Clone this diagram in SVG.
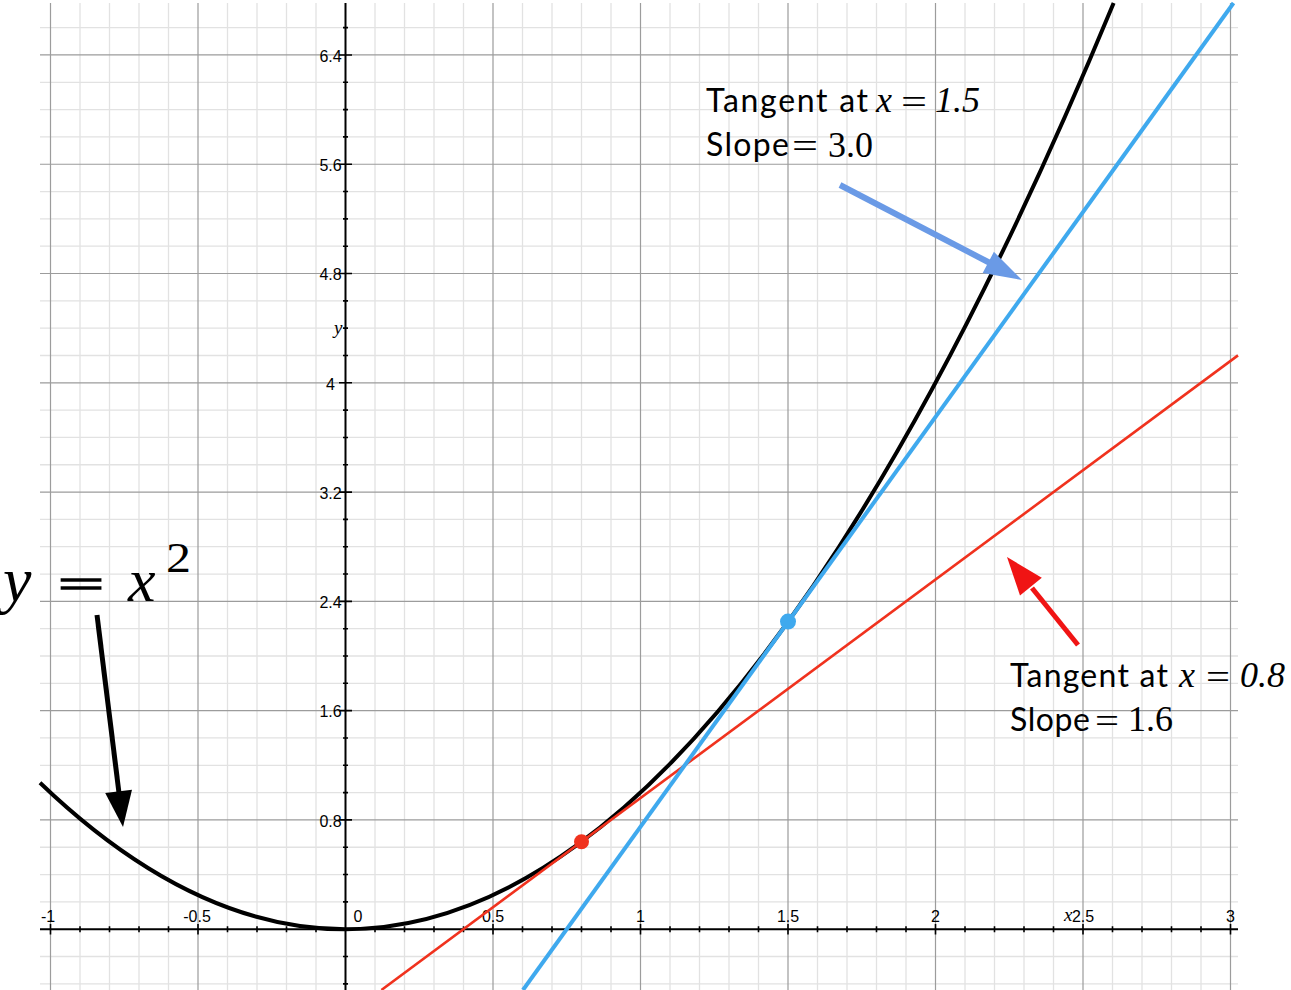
<svg xmlns="http://www.w3.org/2000/svg" width="1291" height="990" viewBox="0 0 1291 990">
<style>
.minor{stroke:#e2e2e2;stroke-width:1.3;fill:none}
.major{stroke:#9c9c9c;stroke-width:1.2;fill:none}
.axis{stroke:#000;stroke-width:2;fill:none}
.tick{stroke:#000;stroke-width:1.6;fill:none}
.lbl{font-family:"Liberation Sans",Arial,sans-serif;font-size:16px;fill:#000;text-anchor:middle}
.ax{font-family:"Liberation Serif","Times New Roman",serif;font-style:italic;font-size:19px;fill:#000}
.sans{font-family:Lato,"Liberation Sans",sans-serif;font-size:32px;fill:#000}
.math{font-family:"Liberation Serif","Times New Roman",serif;font-size:36px;fill:#000}
.it{font-style:italic}
.big{font-family:"Liberation Serif","Times New Roman",serif;fill:#000}
</style>
<rect width="1291" height="990" fill="#fff"/>
<g id="grid">
<path class="minor" d="M80,3V990M109.5,3V990M139,3V990M168.5,3V990M227.5,3V990M257,3V990M286.5,3V990M316,3V990M375,3V990M404.5,3V990M434,3V990M463.5,3V990M522.5,3V990M552,3V990M581.5,3V990M611,3V990M670,3V990M699.5,3V990M729,3V990M758.5,3V990M817.5,3V990M847,3V990M876.5,3V990M906,3V990M965,3V990M994.5,3V990M1024,3V990M1053.5,3V990M1112.5,3V990M1142,3V990M1171.5,3V990M1201,3V990"/>
<path class="minor" d="M40,983.84H1238M40,956.52H1238M40,901.88H1238M40,874.56H1238M40,847.24H1238M40,792.6H1238M40,765.28H1238M40,737.96H1238M40,683.32H1238M40,656H1238M40,628.68H1238M40,574.04H1238M40,546.72H1238M40,519.4H1238M40,464.76H1238M40,437.44H1238M40,410.12H1238M40,355.48H1238M40,328.16H1238M40,300.84H1238M40,246.2H1238M40,218.88H1238M40,191.56H1238M40,136.92H1238M40,109.6H1238M40,82.28H1238M40,27.64H1238"/>
<path class="major" d="M50.5,3V990M198,3V990M493,3V990M640.5,3V990M788,3V990M935.5,3V990M1083,3V990M1230.5,3V990"/>
<path class="major" d="M40,819.92H1238M40,710.64H1238M40,601.36H1238M40,492.08H1238M40,382.8H1238M40,273.52H1238M40,164.24H1238M40,54.96H1238"/>
</g>
<g id="axes">
<path class="axis" d="M40,929.2H1238M345.5,3V990"/>
<path class="tick" d="M343,983.84h5M343,956.52h5M343,901.88h5M343,874.56h5M343,847.24h5M343,792.6h5M343,765.28h5M343,737.96h5M343,683.32h5M343,656h5M343,628.68h5M343,574.04h5M343,546.72h5M343,519.4h5M343,464.76h5M343,437.44h5M343,410.12h5M343,355.48h5M343,328.16h5M343,300.84h5M343,246.2h5M343,218.88h5M343,191.56h5M343,136.92h5M343,109.6h5M343,82.28h5M343,27.64h5M339,819.92h13M339,710.64h13M339,601.36h13M339,492.08h13M339,382.8h13M339,273.52h13M339,164.24h13M339,54.96h13"/>
<path class="tick" d="M80,926.2v6M109.5,926.2v6M139,926.2v6M168.5,926.2v6M227.5,926.2v6M257,926.2v6M286.5,926.2v6M316,926.2v6M375,926.2v6M404.5,926.2v6M434,926.2v6M463.5,926.2v6M522.5,926.2v6M552,926.2v6M581.5,926.2v6M611,926.2v6M670,926.2v6M699.5,926.2v6M729,926.2v6M758.5,926.2v6M817.5,926.2v6M847,926.2v6M876.5,926.2v6M906,926.2v6M965,926.2v6M994.5,926.2v6M1024,926.2v6M1053.5,926.2v6M1112.5,926.2v6M1142,926.2v6M1171.5,926.2v6M1201,926.2v6M50.5,924v10.5M198,924v10.5M493,924v10.5M640.5,924v10.5M788,924v10.5M935.5,924v10.5M1083,924v10.5M1230.5,924v10.5"/>
<text class="lbl" x="330.5" y="826.6">0.8</text>
<text class="lbl" x="330.5" y="717.3">1.6</text>
<text class="lbl" x="330.5" y="608">2.4</text>
<text class="lbl" x="330.5" y="498.8">3.2</text>
<text class="lbl" x="330.5" y="389.5">4</text>
<text class="lbl" x="330.5" y="280.2">4.8</text>
<text class="lbl" x="330.5" y="170.9">5.6</text>
<text class="lbl" x="330.5" y="61.7">6.4</text>
<text class="lbl" x="48" y="922">-1</text>
<text class="lbl" x="197" y="922">-0.5</text>
<text class="lbl" x="358" y="922">0</text>
<text class="lbl" x="493" y="922">0.5</text>
<text class="lbl" x="640.5" y="922">1</text>
<text class="lbl" x="788" y="922">1.5</text>
<text class="lbl" x="935.5" y="922">2</text>
<text class="lbl" x="1083" y="922">2.5</text>
<text class="lbl" x="1230.5" y="922">3</text>
<text class="ax" x="1064" y="921">x</text>
<text class="ax" x="334" y="333.5">y</text>
</g>
<g id="curve">
<path d="M40,782.7Q576.83,1297.55 1113.65,3" fill="none" stroke="#000" stroke-width="4"/>
</g>
<g id="tangent-0.8">
<path d="M381.4,990L1238,355.4" fill="none" stroke="#f0321e" stroke-width="2.6"/>
<circle cx="581.5" cy="841.8" r="7.5" fill="#f0321e"/>
</g>
<g id="tangent-1.5">
<path d="M523,990L1233.5,3" fill="none" stroke="#3fa9ee" stroke-width="4"/>
<circle cx="788" cy="621.6" r="8" fill="#3fa9ee"/>
</g>
<g id="label-curve">
<text class="big it" x="3" y="601" style="font-size:64px">y</text>
<text class="big" x="58" y="598" style="font-size:40px;stroke:#000;stroke-width:1.4" textLength="46" lengthAdjust="spacingAndGlyphs">=</text>
<text class="big it" x="128" y="601" style="font-size:62px">x</text>
<text class="big" x="166" y="572" style="font-size:42px" textLength="25" lengthAdjust="spacingAndGlyphs">2</text>
</g>
<g id="label-tangent-1.5">
<text class="sans" x="706" y="112" textLength="162">Tangent at</text>
<text class="math it" x="876" y="112">x</text>
<text class="math" x="901" y="114" textLength="26" lengthAdjust="spacingAndGlyphs">=</text>
<text class="math it" x="935" y="112">1.5</text>
<text class="sans" x="706" y="156" textLength="83">Slope</text>
<text class="math" x="792" y="158" textLength="26" lengthAdjust="spacingAndGlyphs">=</text>
<text class="math" x="828" y="157">3.0</text>
</g>
<g id="label-tangent-0.8">
<text class="sans" x="1010" y="687" textLength="158">Tangent at</text>
<text class="math it" x="1179" y="687">x</text>
<text class="math" x="1206" y="689" textLength="24" lengthAdjust="spacingAndGlyphs">=</text>
<text class="math it" x="1240" y="687">0.8</text>
<text class="sans" x="1010" y="731" textLength="80">Slope</text>
<text class="math" x="1095" y="733" textLength="24" lengthAdjust="spacingAndGlyphs">=</text>
<text class="math" x="1128" y="731">1.6</text>
</g>
<g id="connectors">
<path d="M840,185L990,263" stroke="#6a9ae6" stroke-width="6" fill="none"/>
<polygon points="1022,280 982.7,273 993.9,251.8" fill="#6a9ae6"/>
<path d="M1078,645L1032,588" stroke="#f01414" stroke-width="5" fill="none"/>
<polygon points="1007,557 1041.8,577.8 1020,595.4" fill="#f01414"/>
<path d="M97,615L119,793" stroke="#000" stroke-width="5" fill="none"/>
<polygon points="123,827 105.2,792.9 132,789.7" fill="#000"/>
</g>
</svg>
